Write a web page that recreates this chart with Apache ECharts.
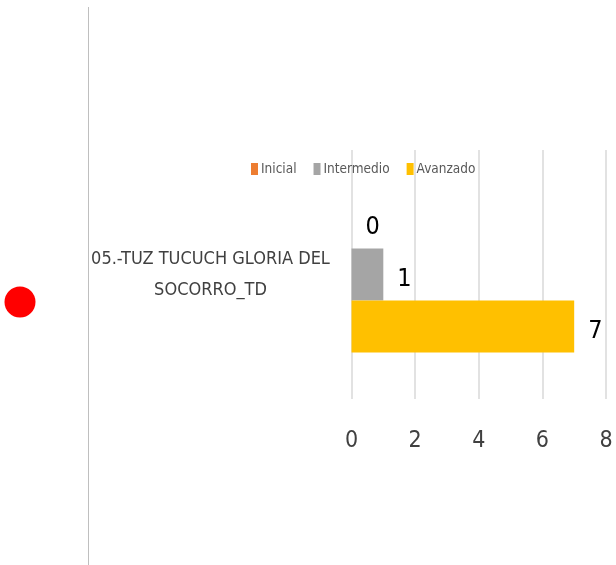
<!DOCTYPE html>
<html>
<head>
<meta charset="utf-8">
<style>
  html, body { margin: 0; padding: 0; background: #ffffff; }
  #chart { width: 616px; height: 565px; }
</style>
<script src="https://cdn.jsdelivr.net/npm/echarts@6/dist/echarts.min.js"></script>
</head>
<body>
<div id="chart"></div>
<script>
// Teacher level counts for one group
const categories = ['05.-TUZ TUCUCH GLORIA DEL\nSOCORRO_TD'];
const seriesNames = ['Inicial', 'Intermedio', 'Avanzado'];
const inicial = [0];
const intermedio = [1];
const avanzado = [7];
const xTicks = [0, 2, 4, 6, 8];

const FONT = '"DejaVu Sans Condensed", "Open Sans", sans-serif';
const colors = ['#ED7D31', '#A5A5A5', '#FFC000'];
const values = [inicial, intermedio, avanzado];

const chart = echarts.init(document.getElementById('chart'), null, { renderer: 'canvas' });

const option = {
  animation: false,
  backgroundColor: '#ffffff',
  textStyle: { fontFamily: FONT },
  legend: {
    left: 246,
    top: 157,
    itemWidth: 7,
    itemHeight: 12,
    itemGap: 17,
    icon: 'rect',
    data: seriesNames,
    textStyle: { fontFamily: FONT, fontSize: 13.5, color: '#595959', padding: [0, 0, 0, -2] }
  },
  grid: { left: 351.5, right: 10, top: 150, bottom: 166, containLabel: false },
  xAxis: {
    type: 'value',
    min: xTicks[0],
    max: xTicks[xTicks.length - 1],
    interval: 2,
    axisLine: { show: false },
    axisTick: { show: false },
    splitLine: { show: true, lineStyle: { color: '#D9D9D9', width: 1.5 } },
    axisLabel: { margin: 31, fontFamily: FONT, fontSize: 23, color: '#404040' }
  },
  yAxis: {
    type: 'category',
    data: categories,
    axisLine: { show: false },
    axisTick: { show: false },
    axisLabel: {
      margin: 141,
      align: 'center',
      fontFamily: FONT,
      fontSize: 18,
      lineHeight: 31,
      color: '#404040'
    }
  },
  series: seriesNames.map((name, i) => ({
    name: name,
    type: 'bar',
    data: values[i],
    barWidth: 52,
    barGap: '0%',
    itemStyle: { color: colors[i] },
    label: {
      show: true,
      position: 'right',
      distance: 14,
      offset: [0, 5],
      fontFamily: FONT,
      fontSize: 25,
      color: '#000000'
    }
  })),
  graphic: [
    {
      type: 'line',
      shape: { x1: 88.5, y1: 7, x2: 88.5, y2: 565 },
      style: { stroke: '#BFBFBF', lineWidth: 1 }
    },
    {
      type: 'circle',
      shape: { cx: 20, cy: 302, r: 15.5 },
      style: { fill: '#FF0000' }
    }
  ]
};

chart.setOption(option);
</script>
</body>
</html>
